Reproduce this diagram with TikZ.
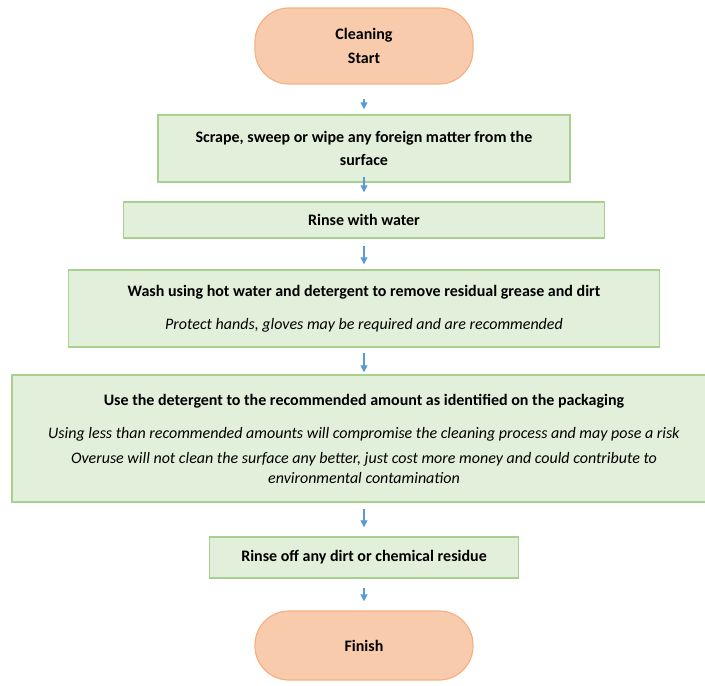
\documentclass[tikz,border=0pt]{standalone}
\usepackage{fontspec}
\setmainfont{Carlito}
\usepackage{tikz}
\usetikzlibrary{shapes.geometric, arrows, arrows.meta}
\definecolor{stepgreen}{HTML}{E2EFDA}
\definecolor{stepedge}{HTML}{A9D18E}
\definecolor{endfill}{HTML}{F8CBAD}
\definecolor{endedge}{HTML}{F4B183}
\definecolor{arrowblue}{HTML}{5B9BD5}
\tikzstyle{terminal} = [rectangle, rounded corners=34pt, minimum width=218pt, minimum height=70pt, align=center, draw=endedge, line width=1.2pt, fill=endfill, font=\fontsize{16}{24}\selectfont\bfseries]
\tikzstyle{process} = [rectangle, align=center, draw=stepedge, line width=1.4pt, fill=stepgreen, font=\fontsize{16}{21}\selectfont]
\tikzstyle{arrow} = [line width=1.3pt,arrowblue,-{Triangle[length=7pt,width=7pt]},shorten <=6pt,shorten >=6pt]

\begin{document}
\begin{tikzpicture}[node distance=100pt]
            \useasboundingbox (0,0) rectangle (705pt,-686pt);
            \node(start)[terminal,minimum height=76pt] at (364pt,-46pt){Cleaning\\Start};
            \node(scrape)[process,minimum width=412pt,minimum height=67pt,below of=start,yshift=-2.5pt]{\textbf{Scrape, sweep or wipe any foreign matter from the}\\[2pt]\textbf{surface}};
            \node(rinse)[process,minimum width=481pt,minimum height=36pt,below of=scrape,yshift=28.5pt]{\textbf{Rinse with water}};
            \node(wash)[process,minimum width=591pt,minimum height=77pt,below of=rinse,yshift=11.5pt]{\textbf{Wash using hot water and detergent to remove residual grease and dirt}\\[12pt]\textit{Protect hands, gloves may be required and are recommended}};
            \node(dose)[process,minimum width=704pt,minimum height=127pt,below of=wash,yshift=-30pt]{\textbf{Use the detergent to the recommended amount as identified on the packaging}\\[12pt]\textit{Using less than recommended amounts will compromise the cleaning process and may pose a risk}\\[4pt]\textit{Overuse will not clean the surface any better, just cost more money and could contribute to}\\[-1pt]\textit{environmental contamination}};
            \node(rinseoff)[process,minimum width=309pt,minimum height=41pt,below of=dose,yshift=-19pt]{\textbf{Rinse off any dirt or chemical residue}};
            \node(finish)[terminal,minimum height=69pt,below of=rinseoff,yshift=12pt]{Finish};
            \draw[arrow,shorten <=14pt,shorten >=5pt](start)--(scrape);
            \draw[arrow,shorten <=-6pt,shorten >=9pt](scrape)--(rinse);
            \draw[arrow,shorten <=7pt,shorten >=5pt](rinse)--(wash);
            \draw[arrow,shorten <=5pt,shorten >=2pt](wash)--(dose);
            \draw[arrow,shorten >=9pt](dose)--(rinseoff);
            \draw[arrow,shorten <=9pt,shorten >=9pt](rinseoff)--(finish);
        \end{tikzpicture}
\end{document}
